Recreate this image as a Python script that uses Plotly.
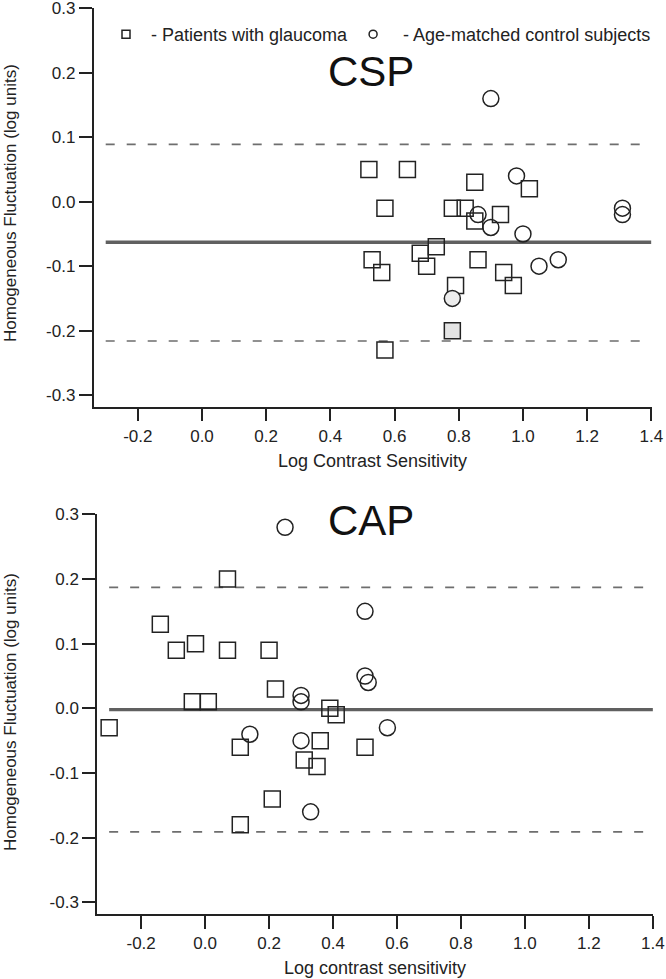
import plotly.graph_objects as go

# ---------------- data ----------------
# CSP panel
csp_glaucoma_x = [0.52, 0.64, 0.85, 1.02, 0.57, 0.78, 0.82, 0.85, 0.93, 0.73,
                  0.68, 0.70, 0.53, 0.56, 0.86, 0.94, 0.97, 0.79, 0.78, 0.57]
csp_glaucoma_y = [0.05, 0.05, 0.03, 0.02, -0.01, -0.01, -0.01, -0.03, -0.02, -0.07,
                  -0.08, -0.10, -0.09, -0.11, -0.09, -0.11, -0.13, -0.13, -0.20, -0.23]
csp_control_x = [0.90, 0.98, 0.86, 0.90, 1.00, 1.31, 1.31, 1.11, 1.05, 0.78]
csp_control_y = [0.16, 0.04, -0.02, -0.04, -0.05, -0.01, -0.02, -0.09, -0.10, -0.15]
csp_mean = -0.063
csp_limits = [0.089, -0.216]

# CAP panel
cap_glaucoma_x = [0.07, -0.14, -0.09, -0.03, 0.07, 0.20, 0.22, -0.04, 0.01, 0.39,
                  0.41, -0.30, 0.11, 0.36, 0.50, 0.31, 0.35, 0.21, 0.11]
cap_glaucoma_y = [0.20, 0.13, 0.09, 0.10, 0.09, 0.09, 0.03, 0.01, 0.01, 0.00,
                  -0.01, -0.03, -0.06, -0.05, -0.06, -0.08, -0.09, -0.14, -0.18]
cap_control_x = [0.25, 0.50, 0.50, 0.51, 0.30, 0.30, 0.57, 0.14, 0.30, 0.33]
cap_control_y = [0.28, 0.15, 0.05, 0.04, 0.02, 0.01, -0.03, -0.04, -0.05, -0.16]
cap_mean = -0.002
cap_limits = [0.187, -0.191]

line_x = [-0.30, 1.40]
x_ticks = [-0.2, 0.0, 0.2, 0.4, 0.6, 0.8, 1.0, 1.2, 1.4]
y_ticks = [-0.3, -0.2, -0.1, 0.0, 0.1, 0.2, 0.3]
x_tick_labels = ["-0.2", "0.0", "0.2", "0.4", "0.6", "0.8", "1.0", "1.2", "1.4"]
y_tick_labels = ["-0.3", "-0.2", "-0.1", "0.0", "0.1", "0.2", "0.3"]

# ---------------- figure ----------------
W, H = 666, 979
INK = "#222222"
FONT = "Liberation Sans, Arial, sans-serif"

fig = go.Figure()

def add_panel(xa, ya, gx, gy, cx, cy, mean, limits, gray_sq=None, gray_ci=None):
    for lim in limits:
        fig.add_trace(go.Scatter(x=line_x, y=[lim, lim], mode="lines", xaxis=xa, yaxis=ya,
                                 line=dict(color="#6e6e6e", width=1.6, dash="9px,12px"),
                                 showlegend=False, hoverinfo="skip"))
    fig.add_trace(go.Scatter(x=line_x, y=[mean, mean], mode="lines", xaxis=xa, yaxis=ya,
                             line=dict(color="#606060", width=3.4),
                             showlegend=False, hoverinfo="skip"))
    sq_fill = ["rgba(0,0,0,0)"] * len(gx)
    if gray_sq is not None:
        sq_fill[gray_sq] = "#e4e4e4"
    ci_fill = ["rgba(0,0,0,0)"] * len(cx)
    if gray_ci is not None:
        ci_fill[gray_ci] = "#ececec"
    fig.add_trace(go.Scatter(x=gx, y=gy, mode="markers", xaxis=xa, yaxis=ya,
                             marker=dict(symbol="square", size=16, color=sq_fill,
                                         line=dict(color=INK, width=1.5)),
                             showlegend=False))
    fig.add_trace(go.Scatter(x=cx, y=cy, mode="markers", xaxis=xa, yaxis=ya,
                             marker=dict(symbol="circle", size=16, color=ci_fill,
                                         line=dict(color=INK, width=1.5)),
                             showlegend=False))

add_panel("x", "y", csp_glaucoma_x, csp_glaucoma_y, csp_control_x, csp_control_y,
          csp_mean, csp_limits, gray_sq=18, gray_ci=9)
add_panel("x2", "y2", cap_glaucoma_x, cap_glaucoma_y, cap_control_x, cap_control_y,
          cap_mean, cap_limits)

# legend-only entries
fig.add_trace(go.Scatter(x=[None], y=[None], mode="markers",
                         name="\u00a0- Patients with glaucoma",
                         marker=dict(symbol="square-open", size=8, color=INK,
                                     line=dict(color=INK, width=1.5))))
fig.add_trace(go.Scatter(x=[None], y=[None], mode="markers",
                         name="\u00a0\u00a0- Age-matched control subjects",
                         marker=dict(symbol="circle-open", size=8, color=INK,
                                     line=dict(color=INK, width=1.5))))

def px_x(p):
    return p / W

def px_y(p):
    return 1 - p / H

axis_common = dict(showline=True, linecolor=INK, linewidth=1.5, ticks="outside",
                   ticklen=13, tickwidth=1.5, tickcolor=INK, showgrid=False,
                   zeroline=False, automargin=False, ticklabeloverflow="allow",
                   tickfont=dict(family=FONT, size=17, color=INK))

fig.update_layout(
    width=W, height=H,
    margin=dict(l=0, r=0, t=0, b=0),
    paper_bgcolor="white", plot_bgcolor="white",
    template=None,
    font=dict(family=FONT, color=INK),
    xaxis=dict(domain=[px_x(93.5), px_x(651.5)], range=[-0.338, 1.4005], anchor="y",
               tickvals=x_ticks, ticktext=x_tick_labels, **axis_common),
    yaxis=dict(domain=[px_y(406.7), px_y(8)], range=[-0.318, 0.3005], anchor="x",
               tickvals=y_ticks, ticktext=y_tick_labels, **axis_common),
    xaxis2=dict(domain=[px_x(97), px_x(653)], range=[-0.338, 1.4005], anchor="y2",
                tickvals=x_ticks, ticktext=x_tick_labels, **axis_common),
    yaxis2=dict(domain=[px_y(914), px_y(514)], range=[-0.318, 0.3005], anchor="x2",
                tickvals=y_ticks, ticktext=y_tick_labels, **axis_common),
    legend=dict(orientation="h", x=px_x(106), y=px_y(16), xanchor="left", yanchor="top",
                font=dict(family=FONT, size=18, color=INK), bgcolor="rgba(0,0,0,0)",
                itemclick=False),
    showlegend=True,
)

annotations = [
    dict(text="CSP", x=px_x(326), y=px_y(71), xanchor="left", yanchor="middle",
         font=dict(family=FONT, size=42, color="#111111")),
    dict(text="CAP", x=px_x(326), y=px_y(520), xanchor="left", yanchor="middle",
         font=dict(family=FONT, size=42, color="#111111")),
    dict(text="Log Contrast Sensitivity", x=px_x(372.5), y=px_y(461), xanchor="center",
         yanchor="middle", font=dict(family=FONT, size=18, color=INK)),
    dict(text="Log contrast sensitivity", x=px_x(375), y=px_y(968), xanchor="center",
         yanchor="middle", font=dict(family=FONT, size=18, color=INK)),
    dict(text="Homogeneous Fluctuation (log units)", x=px_x(10), y=px_y(203), textangle=-90,
         xanchor="center", yanchor="middle", font=dict(family=FONT, size=17, color=INK)),
    dict(text="Homogeneous Fluctuation (log units)", x=px_x(10), y=px_y(712), textangle=-90,
         xanchor="center", yanchor="middle", font=dict(family=FONT, size=17, color=INK)),
]
for a in annotations:
    a.update(xref="paper", yref="paper", showarrow=False)
fig.update_layout(annotations=annotations)

fig.write_html("out.html", config={"displayModeBar": False},
               post_script="document.body.style.margin='0';document.body.style.padding='0';")
